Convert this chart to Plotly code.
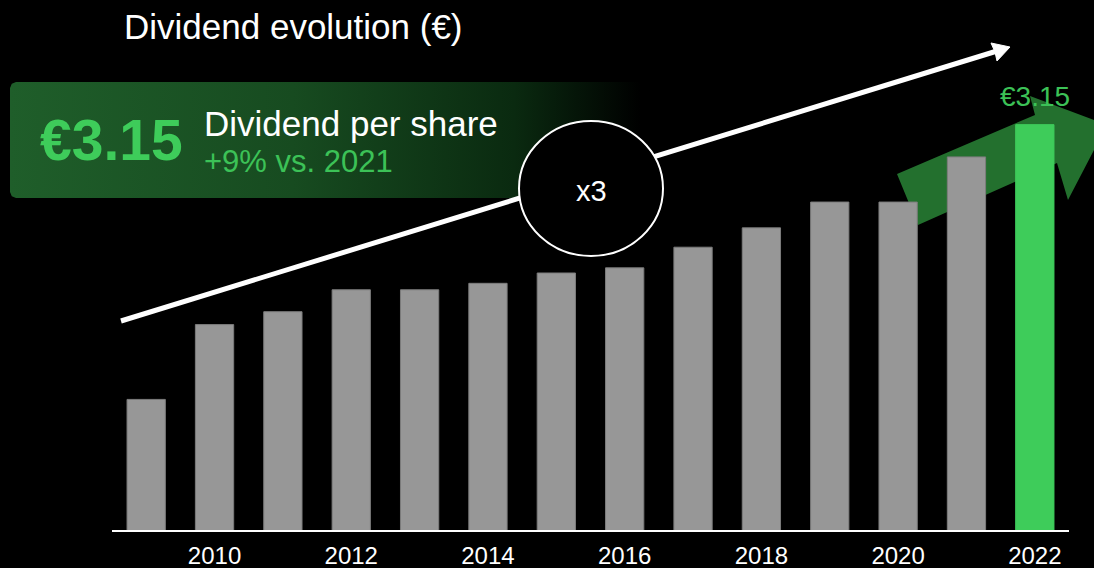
import plotly.graph_objects as go

# dividend per share
years = [2009, 2010, 2011, 2012, 2013, 2014, 2015, 2016, 2017, 2018, 2019, 2020, 2021, 2022]
dividends = [1.02, 1.60, 1.70, 1.87, 1.87, 1.92, 2.00, 2.04, 2.20, 2.35, 2.55, 2.55, 2.90, 3.15]
tick_years = [2010, 2012, 2014, 2016, 2018, 2020, 2022]

W, H = 1094, 568
FONT = "Arial, Liberation Sans, sans-serif"
GREEN = "#3ecc5a"


def px(x):
    return x / W


def py(y):
    return 1 - y / H


bar_colors = [GREEN if y == years[-1] else "#979797" for y in years]
bar_lines = [GREEN if y == years[-1] else "#7c7c7c" for y in years]

fig = go.Figure()

fig.add_trace(go.Bar(
    x=years, y=dividends,
    width=0.56,
    marker=dict(color=bar_colors, line=dict(color=bar_lines, width=1)),
    hovertemplate="%{x}: €%{y:.2f}<extra></extra>",
    xaxis="x", yaxis="y",
))

# gradient banner (pixel space overlay)
bx0, bx1, by0, by1, r = 10, 640, 82, 198, 6
box_x = [bx0 + r, bx1, bx1, bx0 + r, bx0 + 1.8, bx0, bx0, bx0 + 1.8, bx0 + r]
box_y = [by0, by0, by1, by1, by1 - 1.8, by1 - r, by0 + r, by0 + 1.8, by0]
fig.add_trace(go.Scatter(
    x=box_x, y=box_y, mode="lines", fill="toself",
    line=dict(width=0, color="rgba(0,0,0,0)"),
    fillgradient=dict(type="horizontal", colorscale=[
        [0, "#1f5e2a"], [0.45, "#174b20"], [0.8, "#0a2a10"], [1, "#000000"]]),
    hoverinfo="skip", xaxis="x2", yaxis="y2",
))

shapes = []
# big green arrow behind the bars
arrow_pts = [(897, 174), (1035, 115), (1030, 96), (1107, 125), (1068, 200), (1057, 163), (918, 225)]
path = "M " + " L ".join(f"{px(a):.5f},{py(b):.5f}" for a, b in arrow_pts) + " Z"
shapes.append(dict(type="path", path=path, xref="paper", yref="paper", layer="below",
                   fillcolor="#23702e", line=dict(width=0)))
# white trend arrow
shapes.append(dict(type="line", xref="paper", yref="paper",
                   x0=px(121), y0=py(321), x1=px(997), y1=py(51),
                   line=dict(color="white", width=5)))
head = [(1010, 47), (991, 43), (995, 52), (997, 61)]
path = "M " + " L ".join(f"{px(a):.5f},{py(b):.5f}" for a, b in head) + " Z"
shapes.append(dict(type="path", path=path, xref="paper", yref="paper",
                   fillcolor="white", line=dict(color="white", width=1)))
# x3 circle
shapes.append(dict(type="circle", xref="paper", yref="paper",
                   x0=px(519), x1=px(663), y0=py(256), y1=py(121),
                   fillcolor="black", line=dict(color="white", width=2)))
# baseline
shapes.append(dict(type="line", xref="paper", yref="paper",
                   x0=px(112), x1=px(1069), y0=py(531), y1=py(531),
                   line=dict(color="white", width=2)))

annotations = [
    dict(text="Dividend evolution (€)", x=px(122), y=py(27), xanchor="left", yanchor="middle",
         font=dict(size=35, color="white")),
    dict(text="<b>€3.15</b>", x=px(111), y=py(140), xanchor="center", yanchor="middle",
         font=dict(size=57, color=GREEN)),
    dict(text="Dividend per share", x=px(202), y=py(124), xanchor="left", yanchor="middle",
         font=dict(size=35, color="white")),
    dict(text="+9% vs. 2021", x=px(202), y=py(162), xanchor="left", yanchor="middle",
         font=dict(size=31, color="#3cc257")),
    dict(text="x3", x=px(591), y=py(191), xanchor="center", yanchor="middle",
         font=dict(size=29, color="white")),
    dict(text="€3.15", x=years[-1], y=dividends[-1], xref="x", yref="y",
         xanchor="center", yanchor="bottom", yshift=11,
         font=dict(size=28, color="#3cc257")),
]
for a in annotations:
    a.setdefault("xref", "paper")
    a.setdefault("yref", "paper")
    a["showarrow"] = False

fig.update_layout(
    width=W, height=H, autosize=False,
    margin=dict(l=0, r=0, t=0, b=0, autoexpand=False),
    paper_bgcolor="#000000", plot_bgcolor="rgba(0,0,0,0)",
    font=dict(family=FONT, color="white"),
    showlegend=False,
    shapes=shapes,
    annotations=annotations,
    xaxis=dict(domain=[px(112), px(1069)], range=[2008.5, 2022.5],
               tickvals=tick_years, ticktext=[str(t) for t in tick_years],
               tickfont=dict(size=24, color="white"),
               ticks="outside", ticklen=3, tickcolor="rgba(0,0,0,0)",
               showgrid=False, zeroline=False, showline=False, fixedrange=True,
               automargin=False, anchor="y"),
    yaxis=dict(domain=[py(531), py(20)], range=[0, (531 - 20) / 129.0],
               visible=False, showgrid=False, zeroline=False, fixedrange=True,
               automargin=False, anchor="x"),
    xaxis2=dict(domain=[0, 1], range=[0, W], visible=False, fixedrange=True,
                automargin=False, anchor="y2"),
    yaxis2=dict(domain=[0, 1], range=[H, 0], visible=False, fixedrange=True,
                automargin=False, anchor="x2"),
)

fig.write_html("out.html", config={"displayModeBar": False},
               post_script="document.body.style.margin = '0';")
